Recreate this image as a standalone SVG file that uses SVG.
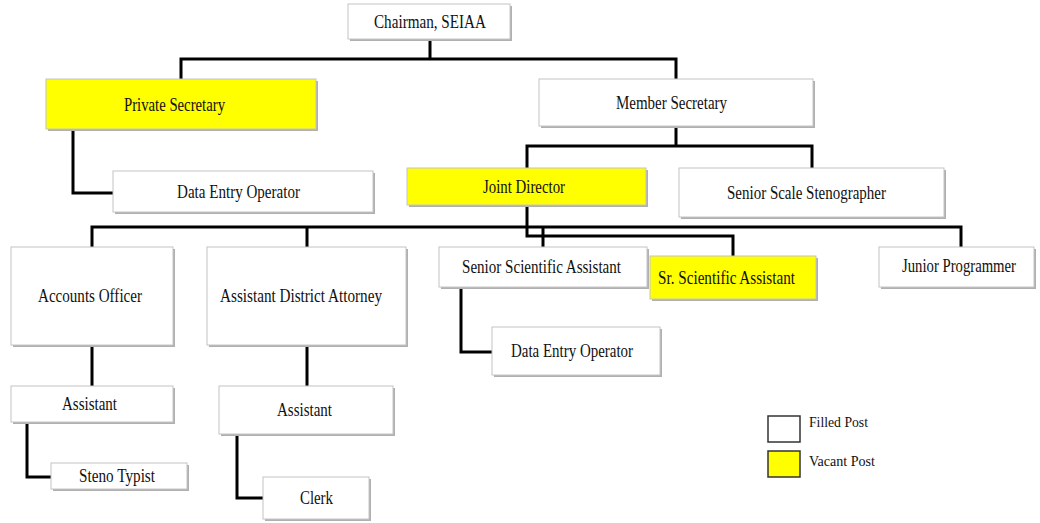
<svg xmlns="http://www.w3.org/2000/svg" width="1040" height="523" viewBox="0 0 1040 523">
<style>
.box{fill:#ffffff;stroke:#c4c4c4;stroke-width:1}
.vac{fill:#ffff00;stroke:#c4c4c4;stroke-width:1}
.sh{fill:#b0b0b0}
.lbl{font-family:"Liberation Serif","Times New Roman",serif;font-size:18px;fill:#111}
.leg{font-family:"Liberation Serif","Times New Roman",serif;font-size:15px;fill:#111}
.con{fill:none;stroke:#000;stroke-width:3;stroke-linejoin:miter}
.lb{stroke:#333;stroke-width:1.5}
</style>
<rect width="1040" height="523" fill="#fff"/>
<g id="connectors">
<path class="con" d="M430 39V59M181 79V59H676V79"/>
<path class="con" d="M73 129V193H113"/>
<path class="con" d="M676 126V146M527 168V146H812V168"/>
<path class="con" d="M92 247V227H961V247M307 227V247M543 227V247"/>
<path class="con" d="M527 205V236H733V256"/>
<path class="con" d="M92 345V386M27 422V477H51"/>
<path class="con" d="M307 345V386M237 434V498H263"/>
<path class="con" d="M461 287V352H492"/>
</g>
<g id="chairman"><rect class="sh" x="350" y="6" width="162" height="35"/><rect class="box" x="348" y="4" width="162" height="35"/><text class="lbl" x="374" y="28" textLength="112" lengthAdjust="spacingAndGlyphs">Chairman, SEIAA</text></g>
<g id="private-secretary"><rect class="sh" x="48" y="81" width="270" height="50"/><rect class="vac" x="46" y="79" width="270" height="50"/><text class="lbl" x="124" y="111" textLength="101" lengthAdjust="spacingAndGlyphs">Private Secretary</text></g>
<g id="deo1"><rect class="sh" x="115" y="173" width="260" height="41"/><rect class="box" x="113" y="171" width="260" height="41"/><text class="lbl" x="177" y="198" textLength="123" lengthAdjust="spacingAndGlyphs">Data Entry Operator</text></g>
<g id="member-secretary"><rect class="sh" x="541" y="81" width="274" height="47"/><rect class="box" x="539" y="79" width="274" height="47"/><text class="lbl" x="616" y="109" textLength="111" lengthAdjust="spacingAndGlyphs">Member Secretary</text></g>
<g id="joint-director"><rect class="sh" x="409" y="170" width="239" height="37"/><rect class="vac" x="407" y="168" width="239" height="37"/><text class="lbl" x="483" y="193" textLength="82" lengthAdjust="spacingAndGlyphs">Joint Director</text></g>
<g id="senior-scale-stenographer"><rect class="sh" x="681" y="170" width="265" height="49"/><rect class="box" x="679" y="168" width="265" height="49"/><text class="lbl" x="727" y="199" textLength="159" lengthAdjust="spacingAndGlyphs">Senior Scale Stenographer</text></g>
<g id="accounts-officer"><rect class="sh" x="13" y="249" width="162" height="98"/><rect class="box" x="11" y="247" width="162" height="98"/><text class="lbl" x="38" y="302" textLength="104" lengthAdjust="spacingAndGlyphs">Accounts Officer</text></g>
<g id="ada"><rect class="sh" x="209" y="249" width="199" height="98"/><rect class="box" x="207" y="247" width="199" height="98"/><text class="lbl" x="220" y="302" textLength="162" lengthAdjust="spacingAndGlyphs">Assistant District Attorney</text></g>
<g id="ssa"><rect class="sh" x="441" y="249" width="208" height="40"/><rect class="box" x="439" y="247" width="208" height="40"/><text class="lbl" x="462" y="273" textLength="159" lengthAdjust="spacingAndGlyphs">Senior Scientific Assistant</text></g>
<g id="sr-sa"><rect class="sh" x="652" y="258" width="166" height="43"/><rect class="vac" x="650" y="256" width="166" height="43"/><text class="lbl" x="658" y="284" textLength="137" lengthAdjust="spacingAndGlyphs">Sr. Scientific Assistant</text></g>
<g id="junior-programmer"><rect class="sh" x="881" y="249" width="155" height="40"/><rect class="box" x="879" y="247" width="155" height="40"/><text class="lbl" x="902" y="272" textLength="114" lengthAdjust="spacingAndGlyphs">Junior Programmer</text></g>
<g id="deo2"><rect class="sh" x="494" y="329" width="168" height="48"/><rect class="box" x="492" y="327" width="168" height="48"/><text class="lbl" x="511" y="357" textLength="122" lengthAdjust="spacingAndGlyphs">Data Entry Operator</text></g>
<g id="assistant1"><rect class="sh" x="13" y="388" width="162" height="36"/><rect class="box" x="11" y="386" width="162" height="36"/><text class="lbl" x="62" y="410" textLength="55" lengthAdjust="spacingAndGlyphs">Assistant</text></g>
<g id="assistant2"><rect class="sh" x="221" y="388" width="174" height="48"/><rect class="box" x="219" y="386" width="174" height="48"/><text class="lbl" x="277" y="416" textLength="55" lengthAdjust="spacingAndGlyphs">Assistant</text></g>
<g id="steno-typist"><rect class="sh" x="53" y="465" width="136" height="26"/><rect class="box" x="51" y="463" width="136" height="26"/><text class="lbl" x="79" y="482" textLength="76" lengthAdjust="spacingAndGlyphs">Steno Typist</text></g>
<g id="clerk"><rect class="sh" x="265" y="479" width="106" height="42"/><rect class="box" x="263" y="477" width="106" height="42"/><text class="lbl" x="300" y="504" textLength="33" lengthAdjust="spacingAndGlyphs">Clerk</text></g>
<g id="legend">
<rect class="lb" x="768" y="416" width="32" height="26" fill="#fff"/>
<text class="leg" x="809" y="427" textLength="59" lengthAdjust="spacingAndGlyphs">Filled Post</text>
<rect class="lb" x="768" y="451" width="32" height="26" fill="#ffff00"/>
<text class="leg" x="809" y="466" textLength="66" lengthAdjust="spacingAndGlyphs">Vacant Post</text>
</g>
</svg>
